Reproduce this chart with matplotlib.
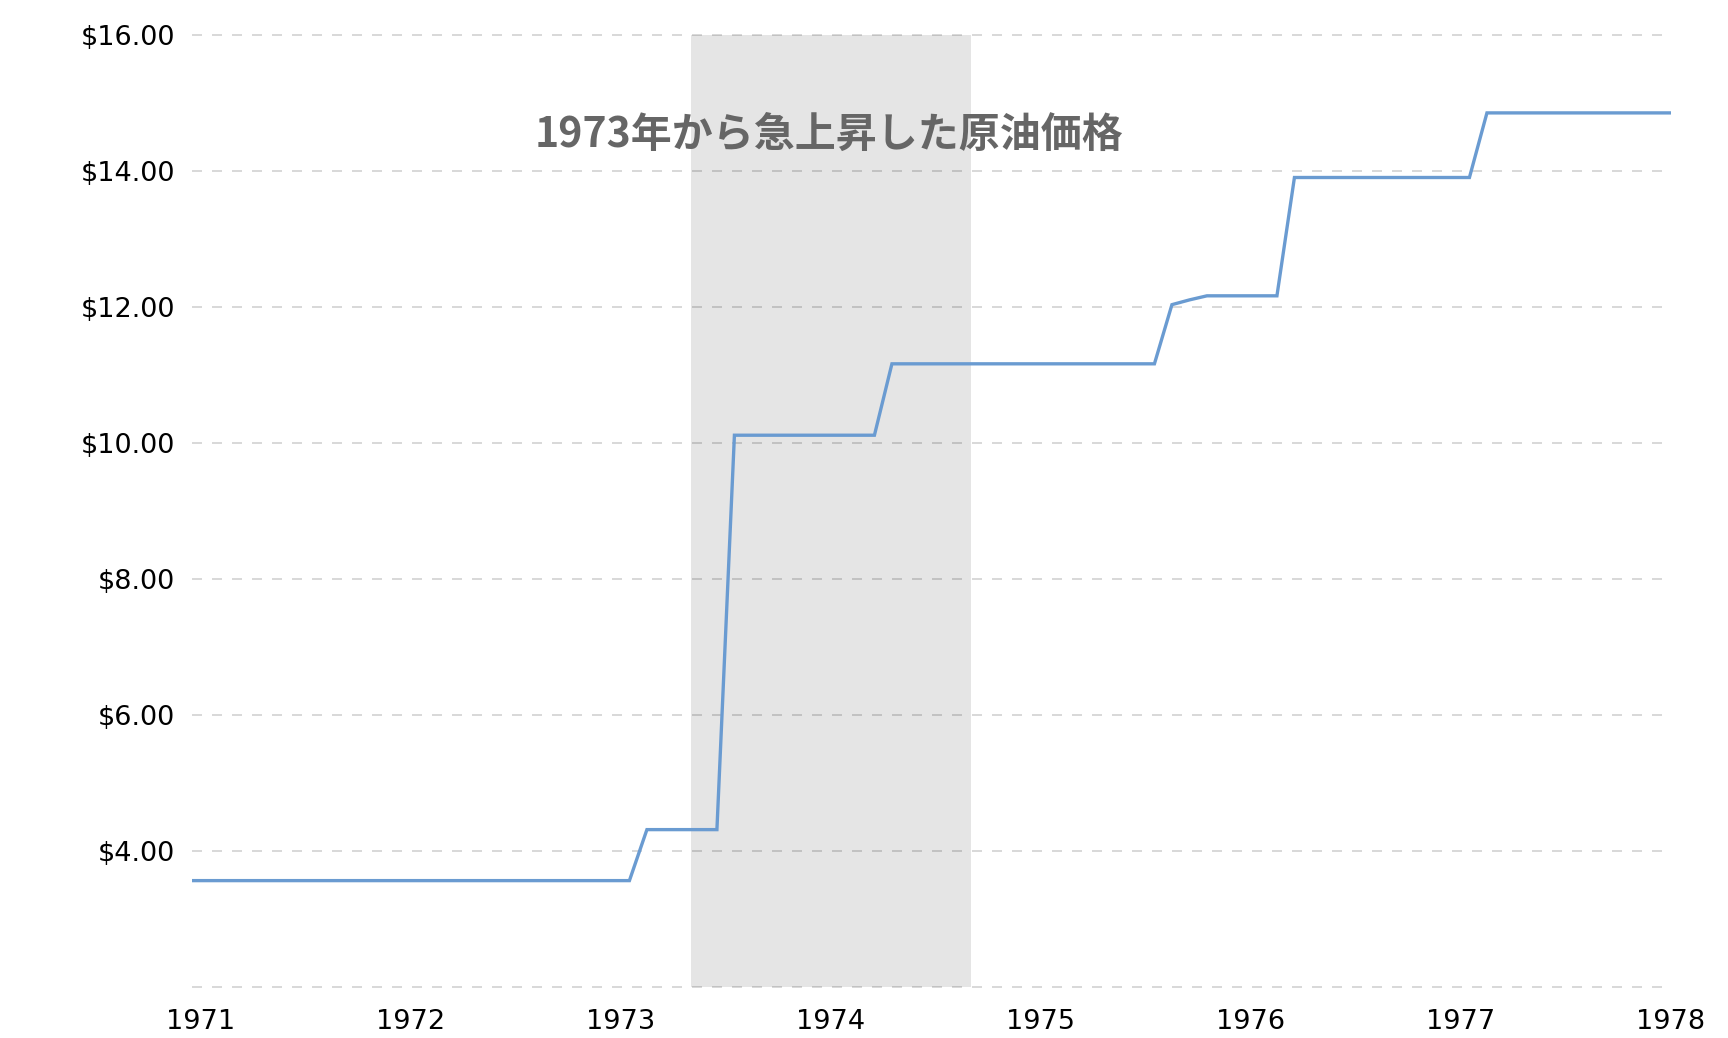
import matplotlib
matplotlib.use("Agg")
import matplotlib.pyplot as plt
import numpy as np

# Monthly crude oil prices, Dec 1970 .. Dec 1977 (plotted mid-month), plus Jan 1978
start_year, start_month = 1970, 12
prices = [
    3.56,                                                                     # 1970 Dec
    3.56, 3.56, 3.56, 3.56, 3.56, 3.56, 3.56, 3.56, 3.56, 3.56, 3.56, 3.56,   # 1971
    3.56, 3.56, 3.56, 3.56, 3.56, 3.56, 3.56, 3.56, 3.56, 3.56, 3.56, 3.56,   # 1972
    3.56, 4.31, 4.31, 4.31, 4.31, 4.31, 10.11, 10.11, 10.11, 10.11, 10.11, 10.11,  # 1973
    10.11, 10.11, 10.11, 11.16, 11.16, 11.16, 11.16, 11.16, 11.16, 11.16, 11.16, 11.16,  # 1974
    11.16, 11.16, 11.16, 11.16, 11.16, 11.16, 11.16, 12.03, 12.10, 12.16, 12.16, 12.16,  # 1975
    12.16, 12.16, 13.90, 13.90, 13.90, 13.90, 13.90, 13.90, 13.90, 13.90, 13.90, 13.90,  # 1976
    13.90, 14.85, 14.85, 14.85, 14.85, 14.85, 14.85, 14.85, 14.85, 14.85, 14.85, 14.85,  # 1977
]
end_year = 1978
end_price = 14.85

year_ticks = [1971, 1972, 1973, 1974, 1975, 1976, 1977, 1978]
price_ticks = [4, 6, 8, 10, 12, 14, 16]
grid_levels = [2, 4, 6, 8, 10, 12, 14, 16]
shade_start, shade_end = 1973 + 4 / 12, 1974 + 8 / 12  # May 1973 .. Sep 1974
annotation = "1973年から急上昇した原油価格"

# x positions (decimal years, mid-month)
x = [start_year + (start_month - 0.5) / 12 + i / 12 for i in range(len(prices))]
x.append(float(end_year))
y = list(prices) + [end_price]

W, H = 1728, 1038
fig = plt.figure(figsize=(W / 100, H / 100), dpi=100)
left, right = 191.9 / W, 1670.7 / W
bottom, top = 1 - 986.7 / H, 1 - 34.7 / H
ax = fig.add_axes([left, bottom, right - left, top - bottom])

ax.set_xlim(x[0], end_year)
ax.set_ylim(2, 16)

# gridlines (dashed, stop a little short of the right end)
gx_end = (1663 - 191.9) / (1670.7 - 191.9)
for g in grid_levels:
    ax.axhline(g, xmin=0, xmax=gx_end, color="#d9d9d9", lw=1.44,
               linestyle=(0, (5, 5)), zorder=1, clip_on=False)

ax.axvspan(shade_start, shade_end, color="black", alpha=0.1, lw=0, zorder=2)

ax.plot(x, y, color="#6a9bd1", lw=2.4, zorder=4, solid_joinstyle="miter")

ax.text(0.5 * (shade_start + shade_end) - 0.01, 14.53, annotation,
        family=["Noto Sans CJK JP", "DejaVu Sans"], fontsize=29.5,
        fontweight="bold", color="#666666", ha="center", va="center", zorder=5)

for s in ax.spines.values():
    s.set_visible(False)

ax.set_yticks(price_ticks)
ax.set_yticklabels([f"${v:.2f}" for v in price_ticks])
ax.set_xticks(year_ticks)
ax.set_xticklabels([str(v) for v in year_ticks])
ax.tick_params(axis="both", length=0, labelsize=19.5, colors="black")
ax.tick_params(axis="y", pad=12)
ax.tick_params(axis="x", pad=16)
for lbl in ax.get_xticklabels() + ax.get_yticklabels():
    lbl.set_family("DejaVu Sans")

fig.savefig("out.png", dpi=100, facecolor="white")
